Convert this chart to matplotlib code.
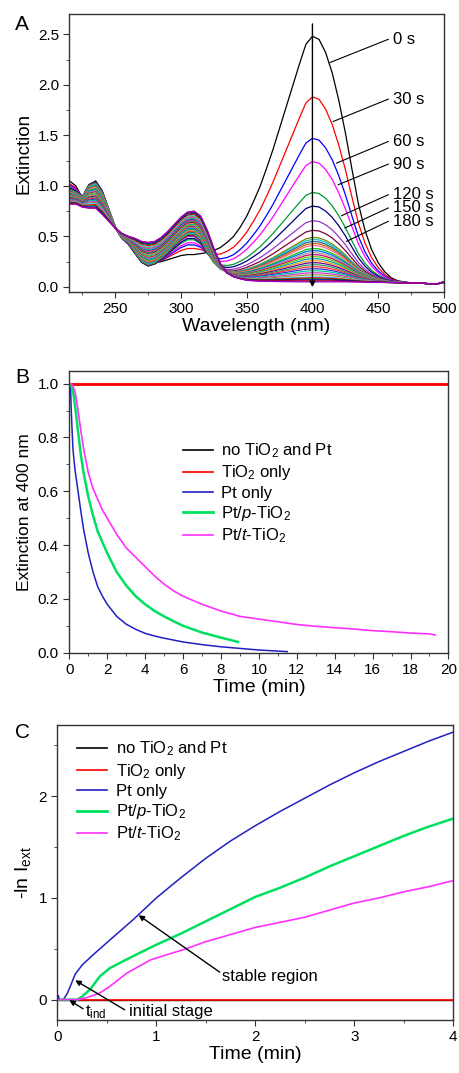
import numpy as np
import matplotlib
matplotlib.use('Agg')
import matplotlib.pyplot as plt
from matplotlib.ticker import MultipleLocator

plt.rcParams['font.family'] = ['Liberation Sans', 'DejaVu Sans']
plt.rcParams['mathtext.fontset'] = 'custom'
plt.rcParams['mathtext.rm'] = 'Liberation Sans'
plt.rcParams['mathtext.it'] = 'Liberation Sans:italic'

# ---- panel A: spectra ----
wl = [215, 220, 225, 230, 235, 240, 245, 250, 255, 260, 265, 270, 275, 280, 285, 290,
      295, 300, 305, 310, 315, 320, 325, 330, 335, 340, 345, 350, 355, 360, 365, 370,
      375, 380, 385, 390, 395, 400, 405, 410, 415, 420, 425, 430, 435, 440, 445, 450,
      455, 460, 465, 470, 475, 480, 485, 490, 495, 500]
# 0 s spectrum
ext_start = [1.05, 1.00, 0.88, 1.00, 1.05, 0.95, 0.75, 0.58, 0.48, 0.42, 0.33, 0.25,
             0.22, 0.24, 0.25, 0.27, 0.29, 0.31, 0.32, 0.32, 0.33, 0.34, 0.36, 0.39,
             0.44, 0.50, 0.59, 0.70, 0.84, 0.99, 1.17, 1.36, 1.57, 1.78, 1.99, 2.20,
             2.40, 2.48, 2.45, 2.32, 2.12, 1.85, 1.53, 1.17, 0.82, 0.56, 0.37, 0.24,
             0.15, 0.09, 0.06, 0.05, 0.04, 0.04, 0.035, 0.03, 0.03, 0.04]
# UV shape of the early spectra (no 400 nm band)
ext_early = [0.95, 0.93, 0.90, 1.02, 1.04, 0.95, 0.78, 0.60, 0.48, 0.44, 0.34, 0.24,
             0.20, 0.22, 0.28, 0.35, 0.43, 0.50, 0.55, 0.55, 0.48, 0.33, 0.20, 0.12,
             0.08, 0.065, 0.06, 0.058, 0.056, 0.055, 0.054, 0.053, 0.052, 0.051, 0.05, 0.05,
             0.05, 0.05, 0.05, 0.05, 0.05, 0.05, 0.05, 0.049, 0.048, 0.047, 0.046, 0.045,
             0.044, 0.043, 0.042, 0.041, 0.04, 0.04, 0.035, 0.03, 0.03, 0.05]
# last spectrum
ext_end = [0.82, 0.82, 0.79, 0.78, 0.78, 0.72, 0.65, 0.58, 0.53, 0.50, 0.48, 0.45,
           0.44, 0.45, 0.49, 0.55, 0.62, 0.69, 0.74, 0.75, 0.70, 0.56, 0.38, 0.23,
           0.14, 0.10, 0.08, 0.065, 0.06, 0.056, 0.055, 0.054, 0.053, 0.052, 0.051, 0.05,
           0.05, 0.05, 0.05, 0.05, 0.05, 0.05, 0.05, 0.049, 0.048, 0.047, 0.046, 0.045,
           0.044, 0.043, 0.042, 0.041, 0.04, 0.04, 0.035, 0.03, 0.03, 0.05]
# height at 400 nm and at 310 nm of each recorded spectrum
peak400 = [2.48, 1.88, 1.47, 1.24, 0.935, 0.80, 0.655, 0.56, 0.49, 0.47, 0.45, 0.43,
           0.41, 0.38, 0.36, 0.34, 0.32, 0.30, 0.28, 0.26, 0.24, 0.22, 0.20, 0.18,
           0.16, 0.14, 0.12, 0.10, 0.09, 0.08, 0.07, 0.06, 0.05]
peak310 = [0.32, 0.38, 0.40, 0.43, 0.46, 0.48, 0.50, 0.51, 0.52, 0.53, 0.54, 0.55,
           0.56, 0.57, 0.58, 0.59, 0.60, 0.61, 0.62, 0.63, 0.64, 0.65, 0.66, 0.67,
           0.68, 0.69, 0.70, 0.71, 0.72, 0.73, 0.74, 0.75, 0.75]
spec_colors = ['#000000', '#FF0000', '#0000FF', '#FF00FF', '#009933', '#000080',
               '#9933CC', '#800040', '#808000', '#00CCCC', '#336699', '#CC6600',
               '#FF6699', '#00CC00', '#0066FF', '#999999', '#CC0066', '#66CC00',
               '#0099CC', '#FF9900', '#660099', '#339966', '#FF3333', '#3333CC',
               '#00CC99', '#CC33CC', '#999933', '#33CCFF', '#FF0000', '#006600',
               '#0000CC', '#CC0000', '#9900CC']
time_labels = ['0 s', '30 s', '60 s', '90 s', '120 s', '150 s', '180 s']

# ---- panel B ----
t_blank = [0, 20]
e_blank = [1.0, 1.0]
t_pt = [0, 0.06, 0.1, 0.15, 0.2, 0.3, 0.4, 0.5, 0.6, 0.75, 1.0, 1.25, 1.5, 1.75, 2.0,
        2.5, 3.0, 3.5, 4, 4.5, 5, 6, 7, 8, 9, 10, 11, 11.5]
e_pt = [1.0, 1.0, 0.905, 0.82, 0.75, 0.68, 0.63, 0.58, 0.53, 0.46, 0.37, 0.30, 0.245,
        0.21, 0.18, 0.135, 0.106, 0.087, 0.072, 0.062, 0.054, 0.04, 0.03, 0.022, 0.016,
        0.01, 0.006, 0.004]
t_ptp = [0, 0.1, 0.2, 0.3, 0.4, 0.5, 0.6, 0.75, 1.0, 1.25, 1.5, 1.75, 2, 2.5, 3, 3.5,
         4, 4.5, 5, 5.5, 6, 7, 8, 8.9]
e_ptp = [1.0, 0.99, 0.97, 0.92, 0.86, 0.80, 0.74, 0.67, 0.58, 0.51, 0.45, 0.41, 0.37,
         0.30, 0.25, 0.21, 0.18, 0.155, 0.135, 0.117, 0.10, 0.075, 0.056, 0.040]
t_ptt = [0, 0.1, 0.2, 0.3, 0.4, 0.5, 0.6, 0.75, 1, 1.25, 1.5, 1.75, 2, 2.5, 3, 3.5, 4,
         4.5, 5, 5.5, 6, 7, 8, 9, 10, 11, 12, 13, 14, 15, 16, 17, 18, 19, 19.3]
e_ptt = [1.0, 1.0, 0.99, 0.97, 0.93, 0.88, 0.83, 0.76, 0.67, 0.61, 0.57, 0.53, 0.50,
         0.44, 0.39, 0.355, 0.32, 0.285, 0.255, 0.23, 0.21, 0.18, 0.155, 0.135, 0.125,
         0.115, 0.105, 0.098, 0.093, 0.088, 0.082, 0.078, 0.073, 0.070, 0.066]

# ---- panel C ----
tc_blank = [0, 4]
lc_blank = [0, 0]
tc_pt = [0, 0.01, 0.02, 0.04, 0.06, 0.1, 0.13, 0.18, 0.25, 0.36, 0.5, 0.77, 1.0, 1.25,
         1.5, 1.75, 2.0, 2.25, 2.5, 2.75, 3.0, 3.25, 3.5, 3.75, 4.0]
lc_pt = [0, 0.04, 0.0, 0.0, 0.0, 0.06, 0.13, 0.25, 0.34, 0.44, 0.56, 0.79, 1.0, 1.2,
         1.39, 1.56, 1.71, 1.85, 1.98, 2.11, 2.23, 2.34, 2.44, 2.54, 2.63]
tc_ptp = [0, 0.2, 0.25, 0.33, 0.43, 0.53, 0.77, 1.0, 1.25, 1.5, 1.75, 2.0, 2.25, 2.5,
          2.75, 3.0, 3.25, 3.5, 3.75, 4.0]
lc_ptp = [0, 0, 0.03, 0.1, 0.23, 0.31, 0.43, 0.54, 0.65, 0.77, 0.89, 1.01, 1.1, 1.2,
          1.31, 1.41, 1.51, 1.61, 1.70, 1.78]
tc_ptt = [0, 0.2, 0.3, 0.43, 0.53, 0.7, 0.94, 1.1, 1.27, 1.5, 1.75, 2.0, 2.25, 2.5,
          2.75, 3.0, 3.25, 3.5, 3.75, 4.0]
lc_ptt = [0, 0, 0.02, 0.066, 0.13, 0.26, 0.39, 0.44, 0.49, 0.57, 0.64, 0.71, 0.76,
          0.81, 0.88, 0.95, 1.0, 1.06, 1.11, 1.17]

series_names = ['no TiO$_2$ and Pt', 'TiO$_2$ only', 'Pt only',
                r'Pt/$\mathit{p}$-TiO$_2$', r'Pt/$\mathit{t}$-TiO$_2$']
series_colors = ['#000000', '#FF0000', '#2020C0', '#00E060', '#FF30FF']


def style(ax):
    for s in ax.spines.values():
        s.set_color('#333333')
        s.set_linewidth(1.0)
    ax.tick_params(which='both', direction='out', top=False, right=False,
                   labelsize=11, color='#333333')
    ax.tick_params(which='major', length=4)
    ax.tick_params(which='minor', length=2.5)


fig = plt.figure(figsize=(4.59, 10.73), dpi=100)

# panel A
axA = fig.add_axes([0.151, 0.7279, 0.816, 0.259])
wl = np.array(wl)
s0 = np.array(ext_start)
se = np.array(ext_early)
s1 = np.array(ext_end)
i310 = list(wl).index(310)
for i, (p, q) in enumerate(zip(peak400, peak310)):
    a = (p - 0.05) / (2.48 - 0.05)
    if a >= 1:
        spec = s0
    else:
        bg310 = (q - a * s0[i310]) / (1 - a)
        c = np.clip((bg310 - se[i310]) / (s1[i310] - se[i310]), 0, 1)
        spec = a * s0 + (1 - a) * (se + c * (s1 - se))
    axA.plot(wl, spec, color=spec_colors[i % len(spec_colors)], lw=0.9)
axA.set_xlim(215, 500)
axA.set_ylim(-0.05, 2.7)
axA.xaxis.set_major_locator(MultipleLocator(50))
axA.xaxis.set_minor_locator(MultipleLocator(25))
axA.yaxis.set_major_locator(MultipleLocator(0.5))
axA.yaxis.set_minor_locator(MultipleLocator(0.25))
axA.yaxis.set_major_formatter(plt.FormatStrFormatter('%.1f'))
axA.set_xlabel('Wavelength (nm)', fontsize=14, labelpad=1)
axA.set_ylabel('Extinction', fontsize=13.5)
style(axA)
axA.annotate('', xy=(400, -0.03), xytext=(400, 2.63),
             arrowprops=dict(arrowstyle='-|>', color='k', lw=1.0, mutation_scale=8))
label_y = [2.45, 1.858, 1.439, 1.215, 0.912, 0.781, 0.649]
tip_x = [413.3, 415.8, 418.4, 419.6, 422.2, 424.7, 426.0]
tip_y = [2.22, 1.637, 1.225, 1.011, 0.705, 0.583, 0.451]
for lab, ly, tx, ty in zip(time_labels, label_y, tip_x, tip_y):
    axA.plot([457.7, tx], [ly, ty], color='k', lw=0.8)
    axA.text(461.5, ly, lab, fontsize=12, va='center', ha='left')

# panel B
axB = fig.add_axes([0.151, 0.3917, 0.826, 0.2625])
axB.plot(t_blank, e_blank, color=series_colors[0], lw=1.0, label=series_names[0])
axB.plot(t_blank, e_blank, color=series_colors[1], lw=2.0, label=series_names[1])
axB.plot(t_pt, e_pt, color=series_colors[2], lw=1.1, label=series_names[2])
axB.plot(t_ptp, e_ptp, color=series_colors[3], lw=1.8, label=series_names[3])
axB.plot(t_ptt, e_ptt, color=series_colors[4], lw=1.2, label=series_names[4])
axB.set_xlim(0, 20)
axB.set_ylim(0, 1.047)
axB.xaxis.set_major_locator(MultipleLocator(2))
axB.xaxis.set_minor_locator(MultipleLocator(1))
axB.yaxis.set_major_locator(MultipleLocator(0.2))
axB.yaxis.set_minor_locator(MultipleLocator(0.1))
axB.yaxis.set_major_formatter(plt.FormatStrFormatter('%.1f'))
axB.set_xlabel('Time (min)', fontsize=14, labelpad=1)
axB.set_ylabel('Extinction at 400 nm', fontsize=12.5)
style(axB)
legB = axB.legend(loc='upper left', bbox_to_anchor=(0.30, 0.75), frameon=False,
                  fontsize=12, handlelength=1.8, handletextpad=0.5, labelspacing=0.2,
                  borderpad=0, borderaxespad=0)
for h in legB.get_lines():
    h.set_linewidth(1.2)
legB.get_lines()[3].set_linewidth(2.0)

# panel C
axC = fig.add_axes([0.125, 0.0494, 0.8627, 0.275])
axC.plot(tc_blank, lc_blank, color=series_colors[0], lw=1.0, label=series_names[0])
axC.plot(tc_blank, lc_blank, color=series_colors[1], lw=1.2, label=series_names[1])
axC.plot(tc_pt, lc_pt, color=series_colors[2], lw=1.1, label=series_names[2])
axC.plot(tc_ptp, lc_ptp, color=series_colors[3], lw=1.8, label=series_names[3])
axC.plot(tc_ptt, lc_ptt, color=series_colors[4], lw=1.2, label=series_names[4])
axC.set_xlim(0, 4)
axC.set_ylim(-0.2, 2.7)
axC.xaxis.set_major_locator(MultipleLocator(1))
axC.xaxis.set_minor_locator(MultipleLocator(0.5))
axC.yaxis.set_major_locator(MultipleLocator(1))
axC.yaxis.set_minor_locator(MultipleLocator(0.5))
axC.set_xlabel('Time (min)', fontsize=14, labelpad=1)
axC.set_ylabel(r'-ln I$_{\mathrm{ext}}$', fontsize=14)
style(axC)
legC = axC.legend(loc='upper left', bbox_to_anchor=(0.05, 0.95), frameon=False,
                  fontsize=12, handlelength=1.8, handletextpad=0.5, labelspacing=0.2,
                  borderpad=0, borderaxespad=0)
for h in legC.get_lines():
    h.set_linewidth(1.2)
legC.get_lines()[3].set_linewidth(2.0)

arrow = dict(arrowstyle='-|>', color='k', lw=1.0, mutation_scale=8, shrinkA=0, shrinkB=0)
axC.annotate('', xy=(0.82, 0.83), xytext=(1.64, 0.27), arrowprops=arrow)
axC.text(1.66, 0.23, 'stable region', fontsize=12, va='center', ha='left')
axC.annotate('', xy=(0.18, 0.19), xytext=(0.68, -0.1), arrowprops=arrow)
axC.text(0.72, -0.115, 'initial stage', fontsize=12, va='center', ha='left')
axC.annotate('', xy=(0.12, -0.005), xytext=(0.26, -0.09), arrowprops=arrow)
axC.text(0.28, -0.125, r't$_{\mathrm{ind}}$', fontsize=12, va='center', ha='left')

fig.text(22 / 459, 1 - 25 / 1073, 'A', fontsize=15, ha='center', va='center')
fig.text(22 / 459, 1 - 378 / 1073, 'B', fontsize=15, ha='center', va='center')
fig.text(22 / 459, 1 - 733 / 1073, 'C', fontsize=15, ha='center', va='center')

fig.savefig('out.png', dpi=100)
